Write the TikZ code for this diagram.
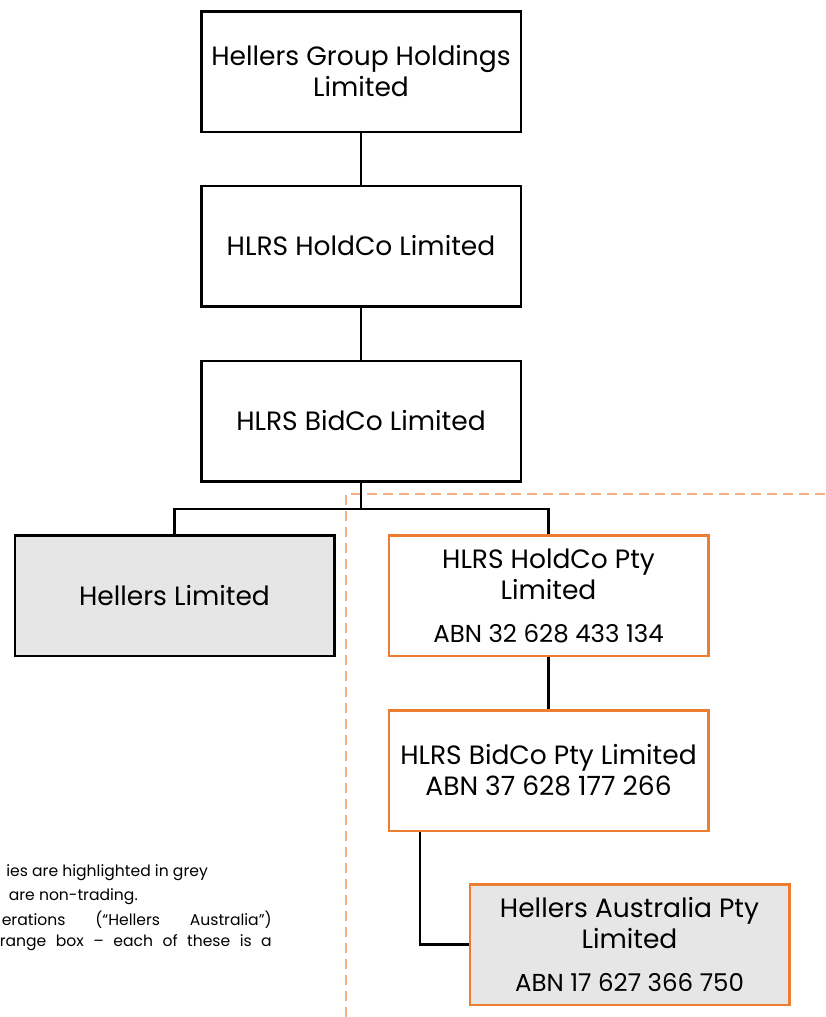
\documentclass[tikz,border=0pt]{standalone}
\usepackage{fontspec}
\setmainfont{Poppins}
\definecolor{borange}{HTML}{ED7D31}
\definecolor{dorange}{HTML}{F4B183}
\definecolor{lgrey}{HTML}{E6E6E6}
\begin{document}
\begin{tikzpicture}[x=1pt,y=-1pt,
  ent/.style={draw=black, line width=2.5pt, minimum width=319.5pt, minimum height=120.5pt, inner sep=0pt, align=center, font=\fontsize{26.5}{31}\selectfont},
  trade/.style={fill=lgrey},
  aus/.style={draw=borange},
  link/.style={draw=black, line width=2.5pt},
  zone/.style={draw=dorange, line width=2.5pt, dash pattern=on 10pt off 6pt},
  note/.style={inner sep=0pt, font=\fontsize{15.6}{18}\selectfont}]
\useasboundingbox (0,0) rectangle (825,1017);
\clip (0,0) rectangle (825,1017);
\coordinate (zA) at (825,494);
\coordinate (zB) at (346,494);
\coordinate (zC) at (346,1017);
\draw[zone] (zA) -- (zB) -- (zC);

\node[ent] (b1) at (361,71.5) {Hellers Group Holdings\\Limited};
\node[ent] (b2) at (361,246) {HLRS HoldCo Limited};
\node[ent] (b3) at (361,421) {HLRS BidCo Limited};
\node[ent,trade] (hl) at (174.5,595.5) {Hellers Limited};
\node[ent,aus] (hc) at (548.5,595.5) {HLRS HoldCo Pty\\Limited\\[12pt]{\fontsize{24.5}{31}\selectfont ABN 32 628 433 134}};
\node[ent,aus] (bp) at (548.5,770.5) {HLRS BidCo Pty Limited\\ABN 37 628 177 266};
\node[ent,aus,trade] (au) at (629.5,944.5) {Hellers Australia Pty\\Limited\\[12pt]{\fontsize{24.5}{31}\selectfont ABN 17 627 366 750}};

\coordinate (split) at (361,509);
\draw[link] (b1) -- (b2);
\draw[link] (b2) -- (b3);
\draw[link] (b3) -- (split) -| (hl.north);
\draw[link] (split) -| (hc.north);
\draw[link] (hc) -- (bp);
\draw[link] ([xshift=-128.5pt]bp.south) |- (au.west);

\node[note, anchor=east] (n1) at (208,873) {ies are highlighted in grey};
\node[note, anchor=east] (n2) at (138,897) {are non-trading.};
\node[note, anchor=east] (n3) at (272,920) {\hbox to 270pt{erations\hfill(“Hellers\hfill Australia”)}};
\node[note, anchor=east] (n4) at (272,943) {\hbox to 272pt{range\hfill box\hfill –\hfill each\hfill of\hfill these\hfill is\hfill a}};
\end{tikzpicture}
\end{document}
